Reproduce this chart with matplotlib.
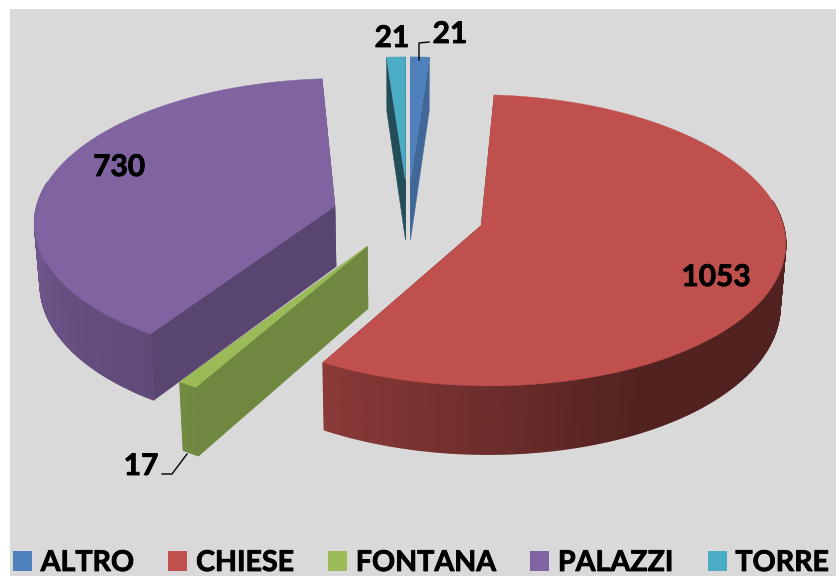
import numpy as np
import matplotlib
matplotlib.use('Agg')
import matplotlib.pyplot as plt
import matplotlib.patheffects as pe
from matplotlib.patches import Patch

# data
labels = ['ALTRO', 'CHIESE', 'FONTANA', 'PALAZZI', 'TORRE']
values = [21, 1053, 17, 730, 21]
colors = ['#4f81bd', '#c0504d', '#9bbb59', '#8064a2', '#4bacc6']
face_shade = [0.80, 0.60, 0.72, 0.69, 0.45]
label_pos = [(450, 34), (716, 277), (141, 466), (119, 167), (392, 38)]

# pie geometry, in picture pixels
cx, cy = 408, 215
rx, ry = 300, 142
persp = 0.10
explode = 0.253
depth = 61
shrink = 0.985

plt.rcParams['font.family'] = ['Lato', 'DejaVu Sans']
plt.rcParams['font.weight'] = 'bold'

heavy = [pe.withStroke(linewidth=0.6, foreground='black')]

fig = plt.figure(figsize=(8.37, 5.76), dpi=100, facecolor='white')
ax = fig.add_axes([10 / 837, 0, 827 / 837, 567 / 576])
ax.set_xlim(10, 837)
ax.set_ylim(576, 9)
ax.set_facecolor('#d9d9d9')
ax.set_xticks([])
ax.set_yticks([])
for s in ax.spines.values():
    s.set_visible(False)


def project(u, v, low=False):
    w = 1 + persp * v
    x = rx * u / w
    y = -ry * v / w
    if low:
        x = x * shrink
        y = y + depth / w
    return cx + x, cy + y


def shade(col, f):
    rgb = np.array(matplotlib.colors.to_rgb(col))
    return tuple(rgb * f)


def rim_shade(theta):
    return np.interp(theta, [152, 213, 270], [0.42, 0.74, 0.88])


def disk(theta, off_u, off_v):
    t = np.radians(theta)
    return np.sin(t) + off_u, np.cos(t) + off_v


total = sum(values)
angles = np.cumsum([0] + values) / total * 360

# back slices first
order = [0, 4, 3, 1, 2]
for i in order:
    a, b = angles[i], angles[i + 1]
    mid = np.radians((a + b) / 2)
    ou, ov = explode * np.sin(mid), explode * np.cos(mid)
    col = colors[i]

    # cut faces
    for edge in (b, a):
        eu, ev = disk(edge, ou, ov)
        p1 = project(ou, ov)
        p2 = project(eu, ev)
        p3 = project(eu, ev, low=True)
        p4 = project(ou, ov, low=True)
        fc = shade(col, face_shade[i])
        ax.fill([p1[0], p2[0], p3[0], p4[0]], [p1[1], p2[1], p3[1], p4[1]],
                color=fc, lw=0.3, zorder=2 + order.index(i))

    # outer wall, only the part turned to the viewer
    thetas = np.linspace(a, b, max(int(b - a) * 2, 2) + 1)
    for t0, t1 in zip(thetas[:-1], thetas[1:]):
        tm = (t0 + t1) / 2
        if tm < 80 or tm > 280:
            continue
        u0, v0 = disk(t0, ou, ov)
        u1, v1 = disk(t1, ou, ov)
        q = [project(u0, v0), project(u1, v1), project(u1, v1, low=True), project(u0, v0, low=True)]
        ax.fill([p[0] for p in q], [p[1] for p in q], color=shade(col, rim_shade(tm)),
                lw=1.0, zorder=2 + order.index(i))

    # top surface
    uu, vv = disk(thetas, ou, ov)
    xs, ys = project(uu, vv)
    ax_x, ax_y = project(ou, ov)
    ax.fill(np.r_[ax_x, xs], np.r_[ax_y, ys], color=col, lw=0.3, zorder=2.5 + order.index(i))

# leader lines
ax.plot([419, 419, 429], [60, 43, 42], color='black', lw=1, zorder=20)
ax.plot([187, 172, 162], [454, 474, 474], color='black', lw=1, zorder=20)

# data labels
for v, (x, y) in zip(values, label_pos):
    ax.text(x, y, str(v), fontsize=21.5, fontweight='bold', color='black',
            ha='center', va='center', zorder=21, path_effects=heavy)

handles = [Patch(facecolor=c, edgecolor='none', label=l) for c, l in zip(colors, labels)]
leg = ax.legend(handles=handles, ncol=5, frameon=False, loc='lower left',
                bbox_to_anchor=(3 / 827, 0.0), borderpad=0, borderaxespad=0,
                handlelength=0.667, handleheight=0.667, handletextpad=0.3,
                columnspacing=1.2, prop={'family': 'Lato', 'weight': 'bold', 'size': 20.6})
for t in leg.get_texts():
    t.set_path_effects(heavy)

plt.savefig('out.png', dpi=100)
